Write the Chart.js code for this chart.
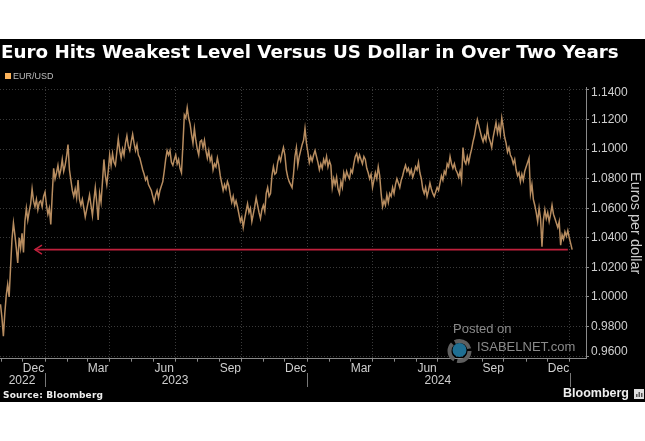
<!DOCTYPE html>
<html>
<head>
<meta charset="utf-8">
<script src="https://cdn.jsdelivr.net/npm/chart.js@4"></script>
<style>
  body { margin: 0; background: #fff; width: 645px; height: 441px; overflow: hidden; position: relative; }
  #band { position: absolute; left: 0; top: 39px; width: 645px; height: 363px; background: #000; }
  canvas { position: absolute; left: 0; top: 39px; }
  .txt { position: absolute; white-space: nowrap; font-family: "Liberation Sans", sans-serif; }
  #title { left: 1px; top: 41px; color: #fff; font: bold 18.3px "DejaVu Sans"; }
  #swatch { position: absolute; left: 5px; top: 73px; width: 6px; height: 6px; background: #fbb25a; }
  #legend { left: 13px; top: 71px; color: #bdbdbd; font-size: 9px; }
  #ytitle { left: 628px; top: 172px; color: #ccc; font-size: 14.5px; writing-mode: vertical-rl; }
  #source { left: 3px; top: 390px; color: #eee; font: bold 9px "DejaVu Sans"; letter-spacing: 0.2px; }
  #brand { left: 563px; top: 386px; color: #eee; font-size: 12.5px; font-weight: bold; }
  #posted { left: 453px; top: 321px; color: #8a8a8a; font-size: 13px; }
  #isabel { left: 477px; top: 339px; color: #8a8a8a; font-size: 13px; }
  svg { position: absolute; }
</style>
</head>
<body>
<div id="band"></div>
<canvas id="fxChart" width="645" height="363"></canvas>
<div class="txt" id="title">Euro Hits Weakest Level Versus US Dollar in Over Two Years</div>
<div id="swatch"></div>
<div class="txt" id="legend">EUR/USD</div>
<div class="txt" id="ytitle">Euros per dollar</div>
<div class="txt" id="posted">Posted on</div>
<div class="txt" id="isabel">ISABELNET.com</div>
<svg style="left:446px;top:338px" width="27" height="26" viewBox="0 0 27 26">
  <circle cx="13.5" cy="13" r="10" fill="none" stroke="#5f5f5f" stroke-width="4" stroke-dasharray="18 3"/>
  <circle cx="13.5" cy="12" r="7" fill="#1f6f93"/>
</svg>
<div class="txt" id="source">Source: Bloomberg</div>
<div class="txt" id="brand">Bloomberg</div>
<svg style="left:634px;top:389px" width="10" height="10">
  <rect width="10" height="10" fill="#ddd"/>
  <rect x="2" y="5" width="1.5" height="3" fill="#555"/>
  <rect x="4.5" y="3" width="1.5" height="5" fill="#555"/>
  <rect x="7" y="4" width="1.5" height="4" fill="#555"/>
</svg>
<script>
// one reading every second day, first one on 31 Oct 2022
const firstDay = -62;
const stepDays = 2;
const eurUsd = [
  0.9950,0.9860,0.9735,0.9890,1.0010,1.0085,1.0000,1.0200,1.0390,1.0500,1.0420,1.0330,1.0230,1.0400,1.0330,1.0430,1.0300,1.0510,1.0600,1.0520,
  1.0580,1.0630,1.0730,1.0650,1.0610,1.0660,1.0590,1.0640,1.0650,1.0610,1.0680,1.0710,1.0620,1.0560,1.0600,1.0490,1.0690,1.0870,1.0800,1.0840,
  1.0890,1.0820,1.0860,1.0930,1.0850,1.0890,1.0950,1.1030,1.0860,1.0790,1.0720,1.0680,1.0730,1.0670,1.0790,1.0660,1.0620,1.0660,1.0600,1.0540,
  1.0590,1.0640,1.0690,1.0620,1.0550,1.0650,1.0740,1.0640,1.0520,1.0700,1.0640,1.0780,1.0930,1.0820,1.0760,1.0850,1.0960,1.0890,1.0970,1.0910,
  1.0890,1.0980,1.1070,1.0990,1.0940,1.1000,1.0960,1.1040,1.1090,1.1020,1.0990,1.1050,1.1100,1.1040,1.0990,1.1030,1.0960,1.0940,1.0900,1.0860,
  1.0830,1.0790,1.0810,1.0760,1.0740,1.0720,1.0680,1.0640,1.0690,1.0720,1.0670,1.0720,1.0750,1.0780,1.0850,1.0930,1.0990,1.0960,1.0990,1.0910,
  1.0890,1.0930,1.0960,1.0900,1.0930,1.0870,1.0840,1.1030,1.1230,1.1210,1.1280,1.1210,1.1170,1.1100,1.1040,1.1140,1.1060,1.1000,1.0960,1.1050,
  1.1060,1.1010,1.1060,1.0990,1.0940,1.0990,1.0920,1.0950,1.0860,1.0900,1.0880,1.0940,1.0890,1.0820,1.0770,1.0720,1.0760,1.0730,1.0780,1.0750,
  1.0690,1.0640,1.0680,1.0620,1.0650,1.0610,1.0560,1.0510,1.0540,1.0470,1.0530,1.0580,1.0630,1.0570,1.0600,1.0510,1.0560,1.0610,1.0670,1.0620,
  1.0570,1.0530,1.0590,1.0620,1.0580,1.0700,1.0740,1.0680,1.0700,1.0820,1.0880,1.0830,1.0840,1.0910,1.0950,1.0920,1.0970,1.1010,1.0960,1.0860,
  1.0810,1.0780,1.0760,1.0740,1.0830,1.0950,1.1010,1.0890,1.0950,1.0990,1.1030,1.1060,1.1140,1.1040,1.0980,1.0910,1.0950,1.0920,1.0960,1.0990,
  1.0950,1.0910,1.0860,1.0900,1.0870,1.0930,1.0900,1.0950,1.0880,1.0920,1.0890,1.0740,1.0800,1.0760,1.0810,1.0730,1.0700,1.0780,1.0740,1.0840,
  1.0800,1.0850,1.0820,1.0800,1.0860,1.0840,1.0900,1.0950,1.0970,1.0920,1.0960,1.0930,1.0900,1.0950,1.0930,1.0870,1.0840,1.0800,1.0830,1.0740,
  1.0790,1.0840,1.0800,1.0880,1.0820,1.0700,1.0610,1.0650,1.0620,1.0690,1.0640,1.0700,1.0680,1.0740,1.0700,1.0760,1.0800,1.0770,1.0740,1.0790,
  1.0820,1.0860,1.0890,1.0850,1.0870,1.0830,1.0860,1.0810,1.0840,1.0880,1.0860,1.0910,1.0840,1.0800,1.0730,1.0700,1.0740,1.0680,1.0720,1.0770,
  1.0730,1.0700,1.0680,1.0710,1.0740,1.0720,1.0770,1.0820,1.0790,1.0850,1.0830,1.0900,1.0880,1.0950,1.0900,1.0870,1.0900,1.0860,1.0840,1.0810,
  1.0850,1.0790,1.1010,1.0920,1.0900,1.0950,1.0910,1.0960,1.1000,1.1050,1.1090,1.1150,1.1200,1.1160,1.1120,1.1080,1.1050,1.1090,1.1060,1.1150,
  1.1080,1.1050,1.1010,1.1080,1.1130,1.1180,1.1110,1.1160,1.1100,1.1210,1.1150,1.1080,1.1040,1.0980,1.1010,1.0960,1.0940,1.0900,1.0930,1.0860,
  1.0820,1.0840,1.0780,1.0830,1.0790,1.0850,1.0880,1.0910,1.0940,1.0700,1.0760,1.0660,1.0620,1.0570,1.0510,1.0600,1.0530,1.0340,1.0520,1.0590,
  1.0530,1.0570,1.0510,1.0560,1.0620,1.0560,1.0530,1.0500,1.0470,1.0510,1.0350,1.0420,1.0390,1.0440,1.0410,1.0450,1.0400,1.0360,1.0320
];
const yTickValues = [1.14, 1.12, 1.10, 1.08, 1.06, 1.04, 1.02, 1.00, 0.98, 0.96];
const yTickLabels = ['1.1400', '1.1200', '1.1000', '1.0800', '1.0600', '1.0400', '1.0200', '1.0000', '0.9800', '0.9600'];
const monthLabels = ['Dec', 'Mar', 'Jun', 'Sep', 'Dec', 'Mar', 'Jun', 'Sep', 'Dec'];
const monthLabelDates = ['2022-12-16', '2023-03-16', '2023-06-16', '2023-09-16', '2023-12-16', '2024-03-16', '2024-06-16', '2024-09-16', '2024-12-16'];
const yearLabels = ['2022', '2023', '2024'];
const yearLabelDates = ['2022-11-30', '2023-07-01', '2024-07-01'];
const yearStartDates = ['2023-01-01', '2024-01-01', '2025-01-01'];
const lowLevel = 1.0320;
const arrowDates = ['2022-12-18', '2024-12-29'];

function dayOf(dateText) {
  return (Date.parse(dateText) - Date.UTC(2023, 0, 1)) / 86400000;
}

// first of each month from Nov 2022 to Jan 2025
const monthStarts = [];
for (let m = 10; m <= 36; m++) {
  monthStarts.push({ value: (Date.UTC(2022, m, 1) - Date.UTC(2023, 0, 1)) / 86400000, quarter: m % 3 === 0 });
}

const xMin = -62.7;
const xMax = 753.3;
const yMin = 0.9582;
const yMax = 1.142;
const gridColor = '#3a3a3a';
const axisColor = '#8a8a8a';
const labelColor = '#cfcfcf';

const arrowHead = {
  id: 'arrowHead',
  afterDatasetsDraw(chart) {
    const x = chart.scales.x.getPixelForValue(dayOf(arrowDates[0]));
    const y = chart.scales.y.getPixelForValue(lowLevel);
    const c = chart.ctx;
    c.save();
    c.strokeStyle = '#c0203c';
    c.lineWidth = 1.5;
    c.beginPath();
    c.moveTo(x + 7, y - 4.5);
    c.lineTo(x, y);
    c.lineTo(x + 7, y + 4.5);
    c.stroke();
    c.restore();
  }
};

const yearSeparators = {
  id: 'yearSeparators',
  afterDraw(chart) {
    const c = chart.ctx;
    c.save();
    c.strokeStyle = '#777';
    yearStartDates.forEach(d => {
      const x = Math.round(chart.scales.x.getPixelForValue(dayOf(d))) + 0.5;
      c.beginPath();
      c.moveTo(x, 334);
      c.lineTo(x, 348);
      c.stroke();
    });
    c.restore();
  }
};

function labelAxis(dates, labels, height) {
  return {
    type: 'linear', position: 'bottom', min: xMin, max: xMax,
    grid: { display: false, drawTicks: false }, border: { display: false },
    afterBuildTicks: s => { s.ticks = dates.map(d => ({ value: dayOf(d) })); },
    afterFit: s => { s.height = height; },
    ticks: {
      autoSkip: false, maxRotation: 0, padding: 0, color: labelColor,
      font: { family: 'Liberation Sans', size: 12 },
      callback: (v, i) => labels[i]
    }
  };
}

new Chart(document.getElementById('fxChart'), {
  type: 'line',
  data: {
    datasets: [{
      label: 'EUR/USD',
      data: eurUsd.map((v, i) => ({ x: firstDay + i * stepDays, y: v })),
      borderColor: '#b88d60',
      borderWidth: 1.5,
      pointRadius: 0,
      tension: 0
    }, {
      label: 'Low',
      data: arrowDates.map(d => ({ x: dayOf(d), y: lowLevel })),
      borderColor: '#c0203c',
      borderWidth: 1.8,
      pointRadius: 0
    }]
  },
  options: {
    responsive: false,
    animation: false,
    layout: { padding: { top: 48 } },
    plugins: { legend: { display: false }, tooltip: { enabled: false } },
    scales: {
      x: {
        type: 'linear', position: 'bottom', min: xMin, max: xMax,
        afterBuildTicks: s => { s.ticks = monthStarts.map(t => ({ value: t.value })); },
        afterFit: s => { s.height = 3; },
        grid: {
          tickLength: 3,
          tickColor: axisColor,
          color: c => monthStarts[c.index] && monthStarts[c.index].quarter ? gridColor : 'transparent'
        },
        border: { color: axisColor, dash: [1, 2] },
        ticks: { display: false, autoSkip: false }
      },
      xMonth: labelAxis(monthLabelDates, monthLabels, 12),
      xYear: labelAxis(yearLabelDates, yearLabels, 28.3),
      y: {
        type: 'linear', position: 'right', min: yMin, max: yMax,
        afterBuildTicks: s => { s.ticks = yTickValues.map(v => ({ value: v })); },
        afterFit: s => { s.width = 4; },
        grid: { color: gridColor, tickLength: 3, tickColor: axisColor },
        border: { color: axisColor, dash: [1, 2] },
        ticks: { display: false, autoSkip: false }
      },
      yLabels: {
        type: 'linear', position: 'right', min: yMin, max: yMax,
        grid: { display: false, drawTicks: false }, border: { display: false },
        // top and bottom labels are pulled inside the axis
        afterBuildTicks: s => {
          s.ticks = yTickValues.map((v, i) => ({
            value: i === 0 ? v - 0.002 : i === yTickValues.length - 1 ? v + 0.0027 : v
          }));
        },
        afterFit: s => { s.width = 55; },
        ticks: {
          autoSkip: false, padding: 1, color: labelColor,
          font: { family: 'Liberation Sans', size: 12 },
          callback: (v, i) => yTickLabels[i]
        }
      }
    }
  },
  plugins: [arrowHead, yearSeparators]
});
</script>
</body>
</html>
